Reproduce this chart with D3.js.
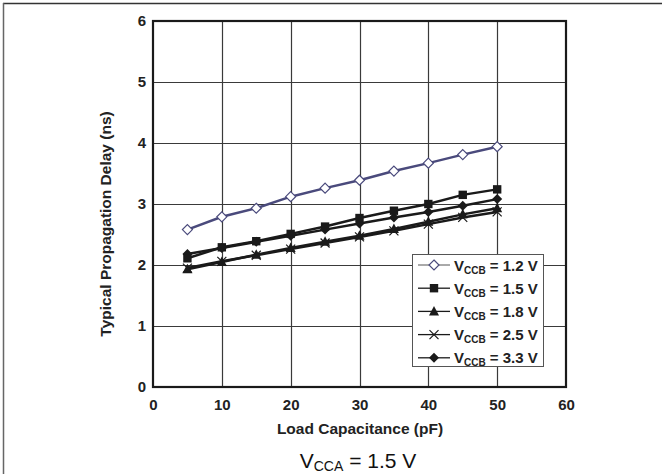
<!DOCTYPE html>
<html><head><meta charset="utf-8">
<script src="https://cdn.jsdelivr.net/npm/d3@7"></script>
<style>body{margin:0;background:#fff}svg{display:block;font-family:Arial,"Liberation Sans",sans-serif}</style>
</head><body><svg id="c" width="662" height="474"></svg>
<script>
const loadCap = [5,10,15,20,25,30,35,40,45,50];
const v12 = [2.58,2.79,2.93,3.12,3.26,3.39,3.54,3.67,3.81,3.94];
const v15 = [2.11,2.29,2.39,2.51,2.63,2.77,2.89,3.00,3.15,3.24];
const v18 = [1.93,2.05,2.17,2.28,2.38,2.48,2.59,2.71,2.83,2.93];
const v25 = [1.95,2.06,2.16,2.26,2.36,2.46,2.56,2.67,2.78,2.87];
const v33 = [2.18,2.28,2.38,2.48,2.58,2.68,2.78,2.87,2.97,3.08];
const seriesNames = ["1.2 V","1.5 V","1.8 V","2.5 V","3.3 V"];
const xTicks = [0,10,20,30,40,50,60];
const yTicks = [0,1,2,3,4,5,6];

const series = [
  {name:seriesNames[0], vals:v12, marker:"diamondOpen", color:"#4a4a7c"},
  {name:seriesNames[1], vals:v15, marker:"square", color:"#1a1a1a"},
  {name:seriesNames[2], vals:v18, marker:"triangle", color:"#1a1a1a"},
  {name:seriesNames[3], vals:v25, marker:"cross", color:"#1a1a1a"},
  {name:seriesNames[4], vals:v33, marker:"diamond", color:"#1a1a1a"}
];

const svg = d3.select("#c");
const L=153, T=21, R=566, B=387;
const x = d3.scaleLinear().domain([0,60]).range([L,R]);
const y = d3.scaleLinear().domain([0,6]).range([B,T]);
const FONT = "Arial, 'Liberation Sans', sans-serif";

// outer frame
svg.append("line").attr("x1",3).attr("x2",662).attr("y1",3.5).attr("y2",3.5).attr("stroke","#333").attr("stroke-width",1.5);
svg.append("line").attr("x1",3.5).attr("x2",3.5).attr("y1",3).attr("y2",474).attr("stroke","#666").attr("stroke-width",1.5);

// grid
const g = svg.append("g");
g.selectAll(".vg").data(xTicks.slice(1,-1)).join("line")
  .attr("x1",d=>Math.round(x(d))+0.5).attr("x2",d=>Math.round(x(d))+0.5).attr("y1",T).attr("y2",B)
  .attr("stroke","#3a3a3a").attr("stroke-width",1.2);
g.selectAll(".hg").data(yTicks.slice(1,-1)).join("line")
  .attr("y1",d=>Math.round(y(d))+0.5).attr("y2",d=>Math.round(y(d))+0.5).attr("x1",L).attr("x2",R)
  .attr("stroke","#3a3a3a").attr("stroke-width",1.2);

// axes (labels only)
const xa = svg.append("g").attr("transform",`translate(0,${B})`)
  .call(d3.axisBottom(x).tickValues(xTicks).tickFormat(d3.format("d")).tickSize(0).tickPadding(12));
const ya = svg.append("g").attr("transform",`translate(${L},0)`)
  .call(d3.axisLeft(y).tickValues(yTicks).tickFormat(d3.format("d")).tickSize(0).tickPadding(7));
[xa,ya].forEach(a=>{a.select(".domain").remove();
  a.selectAll("text").attr("font-size",15).attr("font-weight","bold").attr("fill","#222").attr("font-family",FONT);});

// plot border
svg.append("rect").attr("x",L).attr("y",T).attr("width",R-L).attr("height",B-T)
  .attr("fill","none").attr("stroke","#1a1a1a").attr("stroke-width",2.2);

// markers
function drawMarker(sel, type, color){
  if(type==="diamondOpen"){
    sel.append("path").attr("d","M0,-5L5,0L0,5L-5,0Z").attr("fill","#fff").attr("stroke",color).attr("stroke-width",1.2);
  } else if(type==="diamond"){
    sel.append("path").attr("d","M0,-5L5,0L0,5L-5,0Z").attr("fill",color);
  } else if(type==="square"){
    sel.append("rect").attr("x",-4.2).attr("y",-4.2).attr("width",8.4).attr("height",8.4).attr("fill",color);
  } else if(type==="triangle"){
    sel.append("path").attr("d","M0,-5.5L5,4L-5,4Z").attr("fill",color);
  } else if(type==="cross"){
    sel.append("path").attr("d","M-4.5,-4.5L4.5,4.5M-4.5,4.5L4.5,-4.5").attr("stroke",color).attr("stroke-width",1.2);
  }
}

const line = d3.line().x((d,i)=>x(loadCap[i])).y(d=>y(d));
[...series].reverse().forEach(s=>{
  svg.append("path").attr("d",line(s.vals)).attr("fill","none").attr("stroke",s.color).attr("stroke-width",2.5);
  s.vals.forEach((v,i)=>{
    const m = svg.append("g").attr("transform",`translate(${x(loadCap[i])},${y(v)})`);
    drawMarker(m,s.marker,s.color);
  });
});

// legend
const lg = svg.append("g");
lg.append("rect").attr("x",412.5).attr("y",254.5).attr("width",131).attr("height",112)
  .attr("fill","#fff").attr("stroke","#555").attr("stroke-width",1);
series.forEach((s,i)=>{
  const yy = 265 + i*23.2;
  lg.append("line").attr("x1",418).attr("x2",450).attr("y1",yy).attr("y2",yy).attr("stroke",i===0?"#555":"#1a1a1a").attr("stroke-width",i===0?1:1.3);
  const m = lg.append("g").attr("transform",`translate(434,${yy})`);
  drawMarker(m,s.marker,s.color);
  const t = lg.append("text").attr("x",454).attr("y",yy+5.5).attr("font-size",15).attr("font-weight","bold").attr("fill","#222").attr("font-family",FONT);
  t.append("tspan").text("V");
  t.append("tspan").attr("font-size",10).attr("dy",3).text("CCB");
  t.append("tspan").attr("dy",-3).text(" = "+s.name);
});

// axis titles
svg.append("text").attr("x",360).attr("y",434).attr("text-anchor","middle").attr("font-family",FONT)
  .attr("font-size",15.5).attr("font-weight","bold").attr("fill","#222").text("Load Capacitance (pF)");
svg.append("text").attr("transform",`translate(111,224) rotate(-90)`).attr("text-anchor","middle").attr("font-family",FONT)
  .attr("font-size",15.5).attr("font-weight","bold").attr("fill","#222").text("Typical Propagation Delay (ns)");

// condition caption
const cap = svg.append("text").attr("x",358).attr("y",468).attr("text-anchor","middle").attr("font-family",FONT)
  .attr("font-size",21).attr("fill","#111");
cap.append("tspan").text("V");
cap.append("tspan").attr("font-size",14).attr("dy",3).text("CCA");
cap.append("tspan").attr("dy",-3).text(" = 1.5 V");
</script></body></html>
